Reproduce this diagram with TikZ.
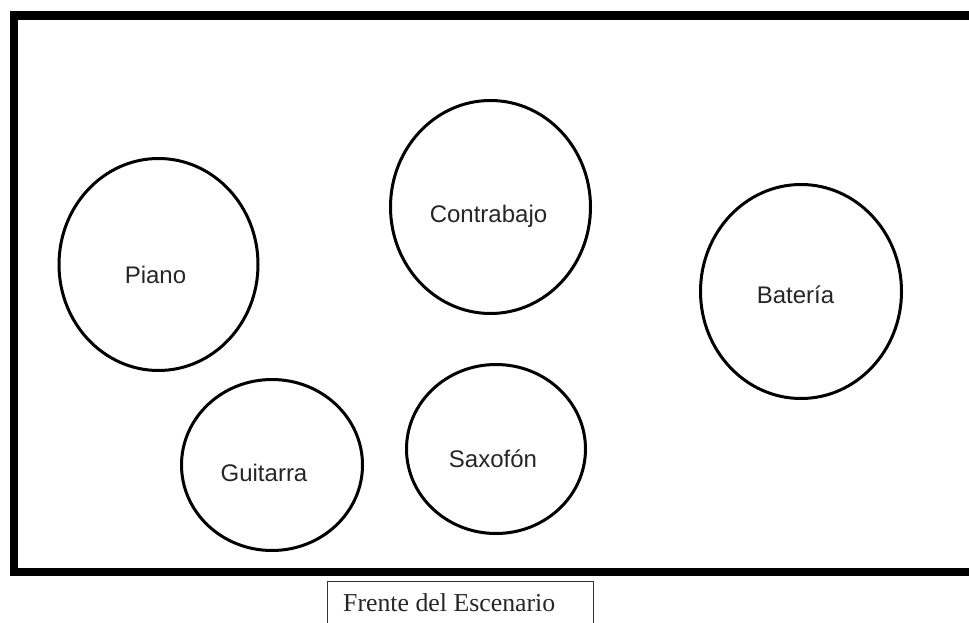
\documentclass[tikz,border=0pt]{standalone}
\usepackage{fontspec}
\setmainfont{Liberation Serif}
\newfontfamily\labelsans{Liberation Sans}
\usetikzlibrary{shapes.geometric}
\tikzset{
  inst/.style={draw=black, line width=3pt, ellipse, inner sep=0pt, outer sep=0pt},
  instlabel/.style={anchor=base, inner sep=0pt, text=black!85, font=\labelsans\fontsize{24}{28}\selectfont},
  frame/.style={draw=black, line width=8.5pt},
  frontbox/.style={draw=black!80, line width=1pt}
}
\begin{document}
\begin{tikzpicture}[x=1pt, y=-1pt]
\useasboundingbox (0,0) rectangle (969,623);
\clip (0,0) rectangle (969,623);
\fill[white] (0,0) rectangle (969,623);
% stage frame
\draw[frame] (14,15.5) rectangle (990,572);
% instruments
\node[inst, minimum width=199pt, minimum height=212pt] (piano) at (158.5,264.5) {};
\node[inst, minimum width=200pt, minimum height=213pt] (contrabajo) at (490.5,207) {};
\node[inst, minimum width=201pt, minimum height=214pt] (bateria) at (801,291.5) {};
\node[inst, minimum width=181pt, minimum height=171pt] (guitarra) at (272,465) {};
\node[inst, minimum width=179pt, minimum height=169pt] (saxofon) at (496,449) {};
\node[instlabel] (tpiano) at (155.5,283) {Piano};
\node[instlabel] (tcontrabajo) at (488.5,222) {Contrabajo};
\node[instlabel] (tbateria) at (795.5,303) {Batería};
\node[instlabel] (tguitarra) at (264,481) {Guitarra};
\node[instlabel] (tsaxofon) at (493,467) {Saxofón};
% front label
\draw[frontbox] (327,640) -- (327,581.5) -- (593,581.5) -- (593,640);
\node[anchor=base west, inner sep=0pt, text=black!85, font=\fontsize{25.8}{30}\selectfont] (frente) at (343,611) {Frente del Escenario};
\end{tikzpicture}
\end{document}
